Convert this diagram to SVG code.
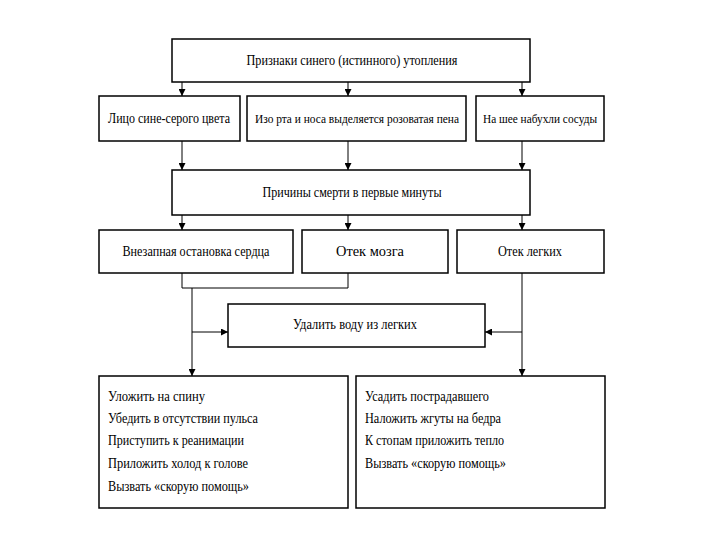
<svg xmlns="http://www.w3.org/2000/svg" width="720" height="540" viewBox="0 0 720 540">
<style>
.box{fill:#fff;stroke:#000;stroke-width:1.5}
.t{font-family:"Liberation Serif","Times New Roman",serif;font-size:15px;fill:#000}
.s{font-size:12.5px}
.c{text-anchor:middle}
.ln{fill:none;stroke:#000;stroke-width:1}
</style>
<defs>
<marker id="ah" viewBox="0 0 10 10" refX="10" refY="5" markerWidth="7" markerHeight="7" markerUnits="userSpaceOnUse" orient="auto">
<path d="M0,0L10,5L0,10z" fill="#000"/>
</marker>
</defs>
<rect width="720" height="540" fill="#fff"/>
<g id="connectors">
<line class="ln" x1="182" y1="82" x2="182" y2="96" marker-end="url(#ah)"/>
<line class="ln" x1="348" y1="82" x2="348" y2="96" marker-end="url(#ah)"/>
<line class="ln" x1="522" y1="82" x2="522" y2="96" marker-end="url(#ah)"/>
<line class="ln" x1="182" y1="141" x2="182" y2="170" marker-end="url(#ah)"/>
<line class="ln" x1="348" y1="141" x2="348" y2="170" marker-end="url(#ah)"/>
<line class="ln" x1="522" y1="141" x2="522" y2="170" marker-end="url(#ah)"/>
<line class="ln" x1="182" y1="215" x2="182" y2="230" marker-end="url(#ah)"/>
<line class="ln" x1="348" y1="215" x2="348" y2="230" marker-end="url(#ah)"/>
<line class="ln" x1="522" y1="215" x2="522" y2="230" marker-end="url(#ah)"/>
<polyline class="ln" points="182,273 182,288 348,288 348,273"/>
<line class="ln" x1="192" y1="288" x2="192" y2="376" marker-end="url(#ah)"/>
<line class="ln" x1="192" y1="332" x2="228" y2="332" marker-end="url(#ah)"/>
<line class="ln" x1="522" y1="273" x2="522" y2="376" marker-end="url(#ah)"/>
<line class="ln" x1="522" y1="332" x2="485" y2="332" marker-end="url(#ah)"/>
</g>
<g id="n-title">
<rect class="box" x="172" y="39" width="358" height="43"/>
<text class="t c" x="352" y="65" textLength="211" lengthAdjust="spacingAndGlyphs">Признаки синего (истинного) утопления</text>
</g>
<g id="n-face">
<rect class="box" x="99" y="96" width="141" height="45"/>
<text class="t c" x="169" y="123" textLength="122" lengthAdjust="spacingAndGlyphs">Лицо сине-серого цвета</text>
</g>
<g id="n-foam">
<rect class="box" x="247" y="96" width="219" height="45"/>
<text class="t s c" x="357" y="123" textLength="204" lengthAdjust="spacingAndGlyphs">Изо рта и носа выделяется розоватая пена</text>
</g>
<g id="n-neck">
<rect class="box" x="476" y="96" width="128" height="45"/>
<text class="t s c" x="540" y="123" textLength="114" lengthAdjust="spacingAndGlyphs">На шее набухли сосуды</text>
</g>
<g id="n-causes">
<rect class="box" x="172" y="170" width="358" height="45"/>
<text class="t c" x="352" y="197" textLength="179" lengthAdjust="spacingAndGlyphs">Причины смерти в первые минуты</text>
</g>
<g id="n-heart">
<rect class="box" x="99" y="230" width="194" height="43"/>
<text class="t c" x="196" y="256" textLength="147" lengthAdjust="spacingAndGlyphs">Внезапная остановка сердца</text>
</g>
<g id="n-brain">
<rect class="box" x="302" y="230" width="146" height="43"/>
<text class="t c" x="370" y="256" textLength="68" lengthAdjust="spacingAndGlyphs">Отек мозга</text>
</g>
<g id="n-lungs">
<rect class="box" x="457" y="230" width="147" height="43"/>
<text class="t c" x="530" y="256" textLength="64" lengthAdjust="spacingAndGlyphs">Отек легких</text>
</g>
<g id="n-water">
<rect class="box" x="228" y="304" width="257" height="43"/>
<text class="t c" x="355" y="329" textLength="124" lengthAdjust="spacingAndGlyphs">Удалить воду из легких</text>
</g>
<g id="n-left">
<rect class="box" x="99" y="376" width="249" height="132"/>
<text class="t" x="108" y="401" textLength="97" lengthAdjust="spacingAndGlyphs">Уложить на спину</text>
<text class="t" x="108" y="423" textLength="150" lengthAdjust="spacingAndGlyphs">Убедить в отсутствии пульса</text>
<text class="t" x="108" y="445" textLength="136" lengthAdjust="spacingAndGlyphs">Приступить к реанимации</text>
<text class="t" x="108" y="468" textLength="140" lengthAdjust="spacingAndGlyphs">Приложить холод к голове</text>
<text class="t" x="108" y="491" textLength="141" lengthAdjust="spacingAndGlyphs">Вызвать «скорую помощь»</text>
</g>
<g id="n-right">
<rect class="box" x="356" y="376" width="249" height="132"/>
<text class="t" x="365" y="401" textLength="124" lengthAdjust="spacingAndGlyphs">Усадить пострадавшего</text>
<text class="t" x="365" y="423" textLength="136" lengthAdjust="spacingAndGlyphs">Наложить жгуты на бедра</text>
<text class="t" x="365" y="445" textLength="139" lengthAdjust="spacingAndGlyphs">К стопам приложить тепло</text>
<text class="t" x="365" y="468" textLength="141" lengthAdjust="spacingAndGlyphs">Вызвать «скорую помощь»</text>
</g>
</svg>
